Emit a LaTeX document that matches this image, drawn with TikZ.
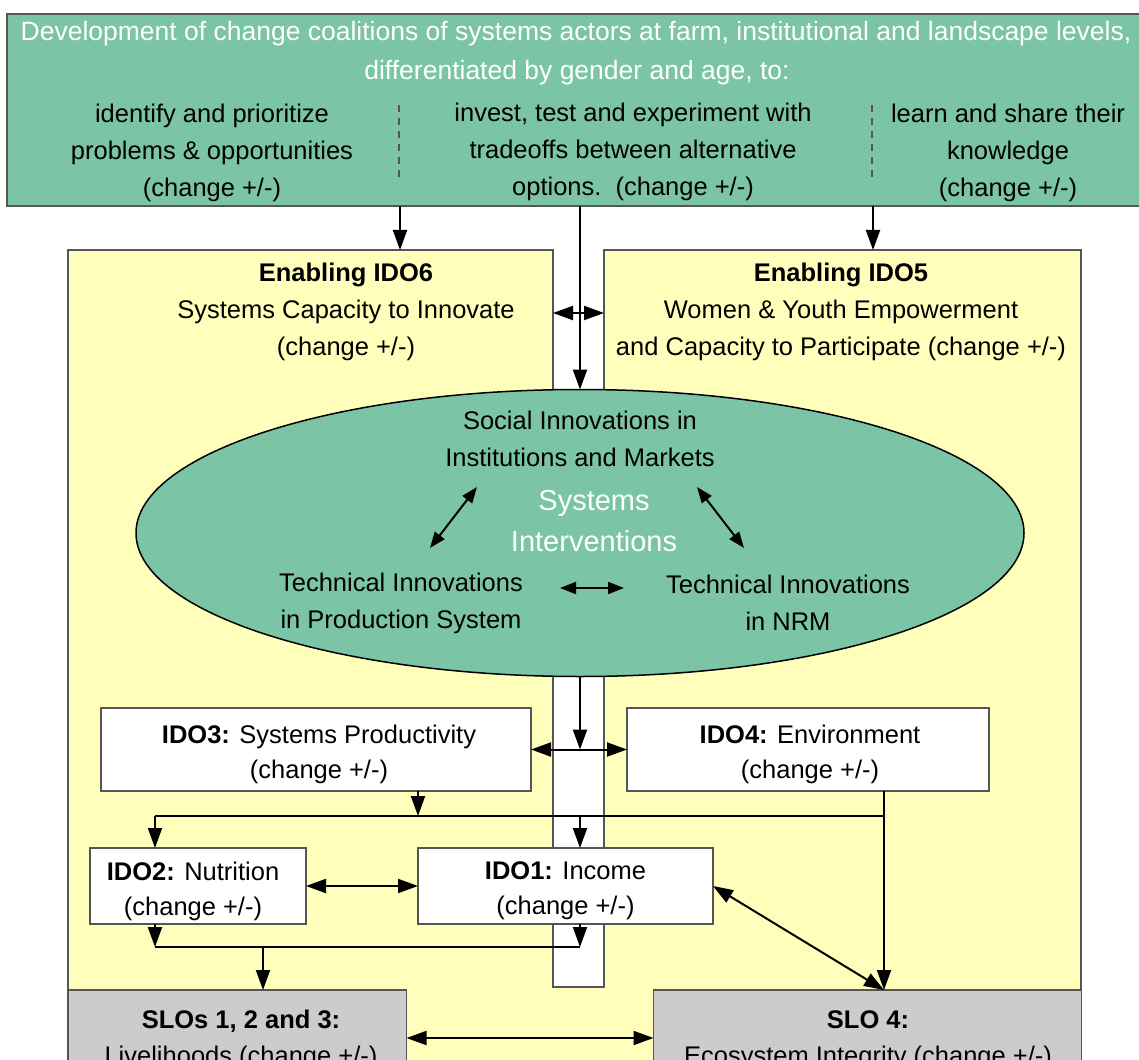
\documentclass[tikz,border=0pt]{standalone}
\usepackage{fontspec}
\setmainfont{Liberation Sans}
\usetikzlibrary{arrows.meta,shapes.geometric}
\definecolor{boxgreen}{RGB}{123,196,166}
\definecolor{panelyellow}{RGB}{255,255,187}
\definecolor{slogray}{RGB}{204,204,204}
\definecolor{edgegray}{RGB}{85,85,85}
\begin{document}
\begin{tikzpicture}[x=1pt,y=-1pt,
  txt/.style={font=\fontsize{25.5}{37}\selectfont, align=center, inner sep=0pt},
  titletxt/.style={font=\fontsize{26.5}{39}\selectfont, align=center, inner sep=0pt, text=white},
  bigtxt/.style={font=\fontsize{29}{41}\selectfont, align=center, inner sep=0pt, text=white},
  boxtxt/.style={font=\fontsize{25.5}{35}\selectfont, align=center, inner sep=0pt},
  slotxt/.style={font=\fontsize{25.5}{36}\selectfont, align=center, inner sep=0pt},
  topbox/.style={draw=edgegray, fill=boxgreen, line width=1.5pt, inner sep=0pt, outer sep=0pt},
  idobox/.style={draw=edgegray, fill=white, line width=1.3pt, inner sep=0pt, outer sep=0pt},
  slobox/.style={idobox, fill=slogray},
  sep/.style={draw=edgegray, line width=1.2pt, dash pattern=on 7pt off 6pt},
  conn/.style={line width=2pt},
  arr/.style={conn, -{Triangle[length=20pt,width=14pt]}},
  darr/.style={conn, {Triangle[length=20pt,width=14pt]}-{Triangle[length=20pt,width=14pt]}},
  sdarr/.style={conn, {Triangle[length=16pt,width=12pt]}-{Triangle[length=16pt,width=12pt]}}]
\useasboundingbox (0,0) rectangle (1139,1059);
\clip (0,0) rectangle (1139,1059);
\fill[white] (0,0) rectangle (1139,1059);

% top box
\node[topbox, minimum width=1140pt, minimum height=192pt] (top) at (577,110) {};
\node[titletxt] (t1) at (576,34) {Development of change coalitions of systems actors at farm, institutional and landscape levels,};
\node[titletxt] (t2) at (577,73) {differentiated by gender and age, to:};
\node[txt] (colA) at (212,153) {identify and prioritize\\problems \& opportunities\\(change +/-)};
\node[txt] (colB) at (633,152) {invest, test and experiment with\\tradeoffs between alternative\\options.\ \ (change +/-)};
\node[txt] (colC) at (1008,153) {learn and share their\\knowledge\\(change +/-)};
\draw[sep] (399,105) -- (399,180);
\draw[sep] (872,105) -- (872,177);

% yellow panels
\filldraw[fill=panelyellow, draw=edgegray, line width=1.2pt]
  (68,1075) -- (68,250) -- (553,250) -- (553,987) -- (604,987) -- (604,250) -- (1081,250) -- (1081,1075) -- cycle;
\node[txt] (ido6) at (346,312) {\textbf{Enabling IDO6}\\Systems Capacity to Innovate\\(change +/-)};
\node[txt] (ido5) at (841,312) {\textbf{Enabling IDO5}\\Women \& Youth Empowerment\\and Capacity to Participate (change +/-)};

% ellipse
\node[ellipse, draw=black, fill=boxgreen, line width=1.5pt, minimum width=888pt, minimum height=287pt, inner sep=0pt, outer sep=0pt] (ell) at (580,533) {};
\node[txt] (soc) at (580,439) {Social Innovations in\\Institutions and Markets};
\node[bigtxt] (sys) at (594,521) {Systems\\Interventions};
\node[txt] (techP) at (401,603) {Technical Innovations\\in Production System};
\node[txt] (techN) at (788,603) {Technical Innovations\\in NRM};

% IDO boxes
\node[idobox, minimum width=430pt, minimum height=83pt] (ido3) at (316,749.5) {};
\node[boxtxt] (ido3t) at (319,754.5) {\textbf{IDO3:} Systems Productivity\\(change +/-)};
\node[idobox, minimum width=362pt, minimum height=83pt] (ido4) at (808,749.5) {};
\node[boxtxt] (ido4t) at (810,754.5) {\textbf{IDO4:} Environment\\(change +/-)};
\node[idobox, minimum width=216pt, minimum height=76pt] (ido2) at (198,886) {};
\node[boxtxt] (ido2t) at (193,891) {\textbf{IDO2:} Nutrition\\(change +/-)};
\node[idobox, minimum width=295pt, minimum height=76pt] (ido1) at (565.5,886) {};
\node[boxtxt] (ido1t) at (565.5,891) {\textbf{IDO1:} Income\\(change +/-)};
\node[slobox, minimum width=338pt, minimum height=96pt] (slo123) at (237.5,1038) {};
\node[slotxt] (slo123t) at (241,1040) {\textbf{SLOs 1, 2 and 3:}\\Livelihoods (change +/-)};
\node[slobox, minimum width=428pt, minimum height=96pt] (slo4) at (867.5,1038) {};
\node[slotxt] (slo4t) at (868,1040) {\textbf{SLO 4:}\\Ecosystem Integrity (change +/-)};

% helper coordinates
\coordinate (xA) at (400,0);
\coordinate (xC) at (873,0);
\coordinate (xM) at (580,0);
\coordinate (x418) at (418,0);
\coordinate (x155) at (155,0);
\coordinate (x884) at (884,0);
\coordinate (x263) at (263,0);
\coordinate (ptop) at (0,250);
\coordinate (bus) at (0,816);
\coordinate (bus2) at (0,947);
\coordinate (gapL) at (553,313);
\coordinate (gapR) at (604,313);
\coordinate (a1) at (477,487);
\coordinate (a2) at (430,548);
\coordinate (b1) at (697,487);
\coordinate (b2) at (744,548);
\coordinate (c1) at (560,588);
\coordinate (c2) at (624,588);

% connectors
\draw[arr] (top.south -| xA) -- (xA |- ptop);
\draw[arr] (top.south -| xC) -- (xC |- ptop);
\draw[arr] (top.south -| xM) -- (ell.north);
\draw[darr] (gapL) -- (gapR);
\draw[sdarr] (a1) -- (a2);
\draw[sdarr] (b1) -- (b2);
\draw[sdarr] (c1) -- (c2);
\draw[arr] (ell.south) -- (xM |- ido3.east);
\draw[darr] (ido3.east) -- (ido4.west);
\draw[arr] (ido3.south -| x418) -- (x418 |- bus);
\draw[conn] (ido4.south -| x884) -- (x884 |- bus) -- (x155 |- bus);
\draw[arr] (x155 |- bus) -- (ido2.north -| x155);
\draw[arr] (xM |- bus) -- (ido1.north -| xM);
\draw[arr] (x884 |- bus) -- (slo4.north -| x884);
\draw[darr] (ido2.east) -- (ido1.west);
\draw[arr] (ido2.south -| x155) -- (x155 |- bus2);
\draw[arr] (ido1.south -| xM) -- (xM |- bus2);
\draw[conn] (x155 |- bus2) -- (xM |- bus2);
\draw[arr] (x263 |- bus2) -- (slo123.north -| x263);
\draw[darr] (ido1.east) -- (slo4.north -| x884);
\draw[darr] (slo123.east) -- (slo4.west);
\end{tikzpicture}
\end{document}
